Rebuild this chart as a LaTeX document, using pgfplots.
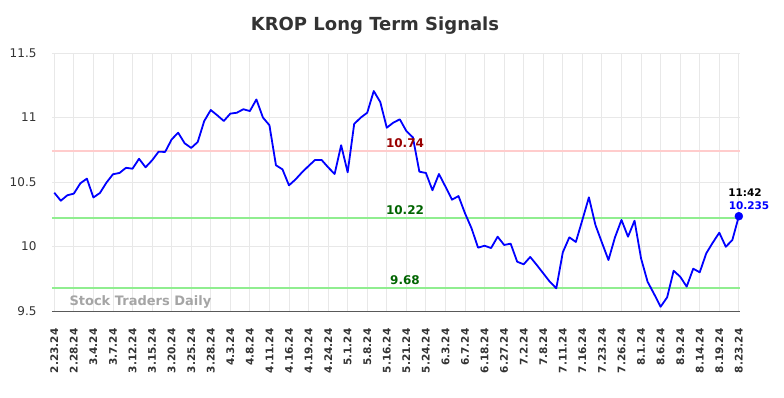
\documentclass[border=0pt]{standalone}
\usepackage{pgfplots}
\pgfplotsset{compat=1.18}
\usepackage{pgfplotstable}
\usepackage{fontspec}
\setmainfont{DejaVu Sans}
\definecolor{titlegray}{RGB}{51,51,51}
\definecolor{resred}{RGB}{255,204,204}
\definecolor{supgreen}{RGB}{144,238,144}
\definecolor{darkred}{RGB}{153,0,0}
\definecolor{darkgreen}{RGB}{0,100,0}
\definecolor{wmgray}{RGB}{165,165,165}
\definecolor{gridgray}{RGB}{232,232,232}
\pgfplotstableread{
x y
0 10.417
1 10.355
2 10.397
3 10.41
4 10.49
5 10.526
6 10.38
7 10.415
8 10.495
9 10.56
10 10.57
11 10.61
12 10.603
13 10.68
14 10.614
15 10.668
16 10.735
17 10.733
18 10.83
19 10.882
20 10.80
21 10.764
22 10.81
23 10.973
24 11.058
25 11.017
26 10.973
27 11.03
28 11.037
29 11.064
30 11.05
31 11.14
32 11.0
33 10.94
34 10.63
35 10.598
36 10.474
37 10.52
38 10.575
39 10.624
40 10.671
41 10.671
42 10.614
43 10.562
44 10.785
45 10.575
46 10.95
47 10.999
48 11.037
49 11.205
50 11.12
51 10.921
52 10.96
53 10.986
54 10.895
55 10.846
56 10.58
57 10.57
58 10.436
59 10.562
60 10.464
61 10.363
62 10.391
63 10.257
64 10.141
65 9.991
66 10.006
67 9.988
68 10.076
69 10.012
70 10.022
71 9.882
72 9.862
73 9.919
74 9.857
75 9.792
76 9.727
77 9.676
78 9.955
79 10.071
80 10.035
81 10.206
82 10.381
83 10.167
84 10.03
85 9.895
86 10.071
87 10.206
88 10.076
89 10.2
90 9.908
91 9.727
92 9.632
93 9.533
94 9.606
95 9.812
96 9.766
97 9.689
98 9.828
99 9.8
100 9.947
101 10.03
102 10.107
103 9.998
104 10.05
105 10.235
}\pricedata
\begin{document}
\begin{tikzpicture}[x=1pt,y=1pt]
\useasboundingbox (0pt,0pt) rectangle (784pt,-398pt);
\node[font=\bfseries\fontsize{18}{20}\selectfont, text=titlegray] at (375pt,-26pt) {KROP Long Term Signals};
\begin{axis}[
  at={(52pt,-311pt)}, anchor=south west, scale only axis,
  width=687.5pt, height=258pt,
  xmin=-0.35, xmax=105.1, ymin=9.5, ymax=11.5,
  clip=false,
  ytick={9.5,10,10.5,11,11.5},
  yticklabels={9.5,10,10.5,11,11.5},
  xtick={0,3,...,105},
  xticklabels={2.23.24,2.28.24,3.4.24,3.7.24,3.12.24,3.15.24,3.20.24,3.25.24,3.28.24,4.3.24,4.8.24,4.11.24,4.16.24,4.19.24,4.24.24,5.1.24,5.8.24,5.16.24,5.21.24,5.24.24,6.3.24,6.7.24,6.18.24,6.27.24,7.2.24,7.8.24,7.11.24,7.16.24,7.23.24,7.26.24,8.1.24,8.6.24,8.9.24,8.14.24,8.19.24,8.23.24},
  x tick label style={rotate=90, anchor=east, font=\bfseries\fontsize{10.5}{12}\selectfont, text=titlegray},
  y tick label style={font=\fontsize{12}{14}\selectfont, text=titlegray},
  xticklabel shift=14pt,
  yticklabel shift=12pt,
  major tick length=0pt,
  grid=major,
  grid style={color=gridgray, line width=0.9pt},
  axis x line*=bottom, axis y line*=left,
  x axis line style={draw=black!65, line width=1pt, -},
  y axis line style={draw=none},
  /pgf/number format/assume math mode=true,
]
\addplot[resred, line width=2pt, forget plot] coordinates {(-0.35,10.74) (105.1,10.74)};
\addplot[supgreen, line width=2pt, forget plot] coordinates {(-0.35,10.22) (105.1,10.22)};
\addplot[supgreen, line width=2pt, forget plot] coordinates {(-0.35,9.68) (105.1,9.68)};
\addplot[blue, line width=1.8pt, line join=round, mark=none] table[x=x,y=y] {\pricedata};
\addplot[blue, only marks, mark=*, mark size=4pt] coordinates {(105,10.235)};
\end{axis}
\node[font=\bfseries\fontsize{13}{15}\selectfont, text=wmgray, anchor=west] at (66pt,-302pt) {Stock Traders Daily};
\node[font=\bfseries\fontsize{12}{14}\selectfont, text=darkred] at (405pt,-143pt) {10.74};
\node[font=\bfseries\fontsize{12}{14}\selectfont, text=darkgreen] at (405pt,-210pt) {10.22};
\node[font=\bfseries\fontsize{12}{14}\selectfont, text=darkgreen] at (405pt,-280pt) {9.68};
\node[font=\bfseries\fontsize{10.5}{12}\selectfont, text=black] at (745pt,-193pt) {11:42};
\node[font=\bfseries\fontsize{10.5}{12}\selectfont, text=blue] at (749pt,-206pt) {10.235};
\end{tikzpicture}
\end{document}
